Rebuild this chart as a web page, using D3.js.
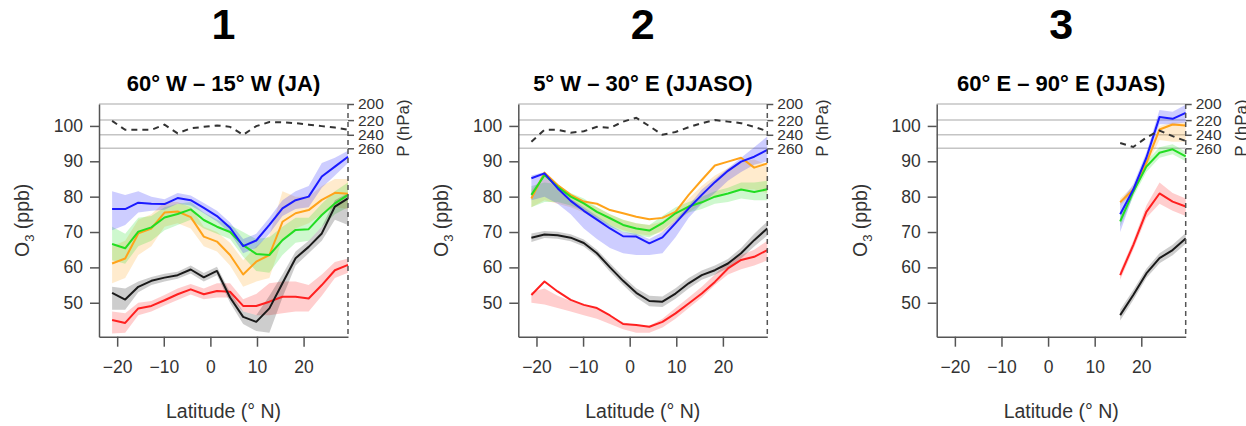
<!DOCTYPE html>
<html>
<head>
<meta charset="utf-8">
<script src="https://cdn.jsdelivr.net/npm/d3@7"></script>
<style>
  body { margin: 0; background: #fff; }
  text { font-family: "Liberation Sans", Arial, sans-serif; }
</style>
</head>
<body>
<svg id="chart" width="1246" height="426"></svg>
<script>
// latitudes of the model grid (2.8125 deg)
var lat = [-21.09, -18.28, -15.47, -12.66, -9.84, -7.03, -4.22, -1.41, 1.41, 4.22,
           7.03, 9.84, 12.66, 15.47, 18.28, 21.09, 23.91, 26.72, 29.53];
var lat3 = [15.47, 18.28, 21.09, 23.91, 26.72, 29.53];

var tickX = [-20, -10, 0, 10, 20];
var tickY = [50, 60, 70, 80, 90, 100];
var tickP = [200, 220, 240, 260];

var panelNums = ["1", "2", "3"];
var titles = ["60° W – 15° W (JA)", "5° W – 30° E (JJASO)", "60° E – 90° E (JJAS)"];

// panel 1 (JA)
var jaBlue   = [76.5, 76.5, 78.3, 78.0, 77.9, 79.6, 79.0, 76.8, 74.5, 71.2, 66.0, 67.6, 72.0, 76.7, 79.0, 80.0, 85.7, 88.5, 91.3];
var jaBlueLo = [70.5, 72.0, 75.5, 76.0, 76.3, 78.0, 77.5, 75.3, 73.0, 69.7, 64.0, 65.5, 69.5, 74.5, 76.5, 77.0, 82.5, 86.0, 89.5];
var jaBlueHi = [81.5, 80.5, 81.5, 80.0, 79.3, 81.0, 80.3, 78.2, 76.0, 72.7, 68.0, 69.5, 74.0, 79.0, 81.5, 83.0, 89.5, 91.0, 93.0];
var jaGreen   = [66.6, 65.4, 70.1, 71.3, 74.1, 75.1, 76.4, 73.4, 71.5, 70.0, 66.3, 63.8, 63.5, 67.7, 70.6, 70.8, 74.8, 78.1, 80.5];
var jaGreenLo = [62.0, 61.0, 66.0, 67.5, 70.5, 72.0, 73.5, 71.0, 69.5, 68.0, 63.0, 59.0, 58.5, 63.5, 67.0, 67.5, 71.5, 75.0, 77.0];
var jaGreenHi = [71.5, 69.5, 74.0, 74.5, 77.0, 78.0, 78.5, 75.5, 73.5, 72.0, 70.0, 68.0, 68.5, 71.5, 74.0, 74.0, 78.0, 81.5, 84.0];
var jaOrange   = [61.1, 62.5, 69.6, 71.0, 75.5, 75.8, 74.2, 68.7, 67.3, 63.5, 58.0, 61.6, 63.5, 72.9, 75.3, 76.2, 79.1, 81.1, 80.8];
var jaOrangeLo = [55.5, 57.0, 63.5, 66.0, 71.5, 72.5, 71.0, 66.0, 64.5, 60.5, 54.5, 56.0, 57.0, 68.0, 71.0, 72.5, 75.0, 77.0, 76.5];
var jaOrangeHi = [66.0, 67.5, 73.5, 75.0, 78.5, 78.5, 77.0, 71.5, 70.0, 67.0, 62.0, 66.0, 69.0, 81.5, 80.0, 80.0, 83.0, 85.0, 85.0];
var jaBlack   = [52.8, 50.9, 54.5, 56.2, 57.1, 57.8, 59.4, 57.2, 59.0, 51.5, 46.0, 44.6, 48.4, 55.5, 62.6, 65.8, 69.6, 77.2, 79.5];
var jaBlackLo = [48.0, 48.0, 53.0, 55.0, 56.0, 56.8, 58.3, 56.0, 57.8, 50.0, 44.0, 42.0, 41.5, 51.5, 60.5, 64.0, 67.5, 73.5, 72.0];
var jaBlackHi = [54.5, 54.0, 56.0, 57.3, 58.2, 58.8, 60.5, 58.4, 60.2, 53.0, 47.5, 46.5, 52.0, 58.0, 64.5, 67.5, 71.5, 79.0, 81.0];
var jaRed   = [45.1, 44.3, 48.4, 49.1, 50.7, 52.4, 53.8, 52.4, 53.3, 53.1, 49.1, 49.1, 50.3, 51.7, 51.7, 51.2, 55.0, 59.2, 60.7];
var jaRedLo = [41.3, 41.5, 46.5, 47.5, 49.2, 50.8, 52.3, 51.0, 51.5, 51.5, 47.5, 46.5, 46.5, 47.0, 47.5, 47.5, 52.0, 57.0, 58.5];
var jaRedHi = [47.5, 47.0, 50.0, 50.5, 52.2, 54.0, 55.3, 54.0, 55.5, 55.5, 51.0, 52.5, 55.5, 56.0, 56.0, 55.0, 58.0, 61.5, 62.5];
var jaPres = [221, 233, 233, 233, 226, 238, 231, 229, 227, 229, 240, 228, 222.5, 223, 224, 226, 228, 230, 233];

// panel 2 (JJASO)
var jjBlue   = [85.2, 86.6, 82.4, 78.8, 76.0, 73.5, 71.0, 68.8, 68.7, 66.8, 68.5, 72.5, 76.7, 80.5, 84.1, 87.3, 89.9, 91.3, 93.2];
var jjBlueLo = [79.0, 80.0, 78.0, 75.0, 71.0, 68.0, 65.5, 64.0, 63.5, 63.5, 64.0, 68.5, 74.0, 78.0, 81.0, 84.5, 87.0, 89.0, 90.0];
var jjBlueHi = [86.0, 87.0, 83.0, 79.5, 77.0, 74.5, 72.0, 70.0, 69.5, 68.0, 70.0, 73.5, 77.5, 82.0, 85.0, 88.0, 91.0, 94.0, 97.0];
var jjGreen   = [80.5, 86.1, 82.8, 80.0, 78.1, 75.7, 73.9, 72.0, 71.0, 70.4, 72.5, 75.3, 77.2, 78.4, 80.0, 80.9, 82.0, 81.3, 82.1];
var jjGreenLo = [77.0, 78.5, 78.5, 77.5, 76.0, 73.5, 71.5, 70.0, 69.0, 68.5, 70.5, 73.5, 75.5, 76.5, 78.0, 78.5, 79.5, 79.0, 79.0];
var jjGreenHi = [83.0, 84.0, 83.5, 81.0, 79.5, 77.0, 75.0, 73.5, 72.5, 72.0, 74.5, 77.0, 78.5, 80.0, 81.5, 82.5, 84.0, 84.0, 84.5];
var jjOrange   = [79.5, 86.8, 83.3, 80.5, 78.6, 78.0, 76.2, 75.3, 74.3, 73.6, 74.0, 75.7, 80.5, 84.7, 88.8, 89.9, 91.0, 88.2, 89.4];
var jjOrangeLo = [77.0, 79.0, 78.0, 77.0, 75.5, 74.0, 72.0, 70.5, 69.5, 69.0, 70.0, 72.5, 75.5, 78.0, 80.0, 81.5, 82.0, 82.0, 81.0];
var jjOrangeHi = [82.0, 86.0, 83.0, 80.0, 78.5, 77.0, 75.0, 73.5, 72.5, 72.0, 73.0, 76.0, 79.5, 83.0, 86.0, 88.0, 90.0, 90.5, 89.0];
var jjBlack   = [68.4, 69.3, 69.1, 68.4, 66.9, 64.0, 60.0, 56.2, 52.8, 50.5, 50.3, 52.6, 55.5, 57.8, 59.2, 61.1, 64.0, 67.7, 71.0];
var jjBlackLo = [67.2, 68.3, 68.1, 67.4, 65.9, 63.0, 58.8, 55.0, 51.5, 49.0, 48.8, 51.1, 54.0, 56.5, 57.9, 59.8, 62.5, 65.9, 69.0];
var jjBlackHi = [69.6, 70.3, 70.1, 69.4, 67.9, 65.0, 61.2, 57.4, 54.1, 52.0, 51.8, 54.1, 57.0, 59.1, 60.5, 62.4, 65.5, 69.5, 73.0];
var jjRed   = [52.2, 56.0, 53.2, 50.8, 49.4, 48.5, 46.4, 44.0, 43.7, 43.2, 44.6, 47.0, 49.8, 52.6, 55.9, 59.7, 62.1, 63.0, 64.9];
var jjRedLo = [50.0, 49.5, 48.5, 47.5, 46.5, 45.5, 44.0, 42.5, 41.5, 41.5, 43.0, 45.5, 48.5, 51.5, 55.0, 58.0, 59.5, 60.5, 62.0];
var jjRedHi = [53.0, 54.0, 52.0, 50.5, 49.5, 48.5, 46.5, 44.5, 43.5, 43.5, 45.5, 48.5, 51.5, 54.5, 58.0, 61.5, 63.5, 65.0, 67.5];
var jjPres = [250, 233, 233, 237, 235, 229, 230.5, 222, 217, 228, 240, 236, 229.5, 224, 220, 222, 224, 229, 235];

// panel 3 (JJAS)
var asBlue   = [75.0, 82.0, 91.0, 102.5, 102.0, 103.7];
var asBlueLo = [70.0, 80.5, 89.5, 100.5, 100.5, 101.0];
var asBlueHi = [78.5, 83.5, 92.5, 104.5, 104.0, 106.0];
var asGreen   = [73.0, 81.4, 88.5, 92.4, 93.4, 91.4];
var asGreenLo = [71.5, 80.0, 87.0, 91.0, 92.0, 90.0];
var asGreenHi = [74.5, 82.8, 90.0, 94.0, 94.8, 92.8];
var asOrange   = [78.4, 82.0, 89.5, 99.0, 100.4, 100.1];
var asOrangeLo = [77.5, 81.0, 88.5, 96.0, 95.5, 95.5];
var asOrangeHi = [79.5, 83.0, 90.5, 100.0, 101.0, 101.0];
var asBlack   = [46.5, 52.2, 58.3, 62.6, 64.9, 68.2];
var asBlackLo = [45.0, 50.8, 57.0, 61.2, 63.4, 66.7];
var asBlackHi = [48.0, 53.6, 59.6, 64.0, 66.4, 69.7];
var asRed   = [57.8, 66.3, 75.7, 80.9, 78.6, 77.2];
var asRedLo = [56.5, 65.0, 74.0, 78.0, 76.0, 74.5];
var asRedHi = [59.0, 67.5, 77.5, 84.0, 81.0, 79.5];
var asPres = [252, 258, 244, 234, 242, 249];

var colors = {blue: "#1a1aff", green: "#22dd22", orange: "#ffa31a", red: "#ff2020", black: "#1a1a1a"};

var panels = [
    {left: 99, lat: lat, pres: jaPres, series: [
        {c: colors.orange, mid: jaOrange, lo: jaOrangeLo, hi: jaOrangeHi},
        {c: colors.green, mid: jaGreen, lo: jaGreenLo, hi: jaGreenHi},
        {c: colors.blue, mid: jaBlue, lo: jaBlueLo, hi: jaBlueHi},
        {c: colors.red, mid: jaRed, lo: jaRedLo, hi: jaRedHi},
        {c: colors.black, mid: jaBlack, lo: jaBlackLo, hi: jaBlackHi}]},
    {left: 518.3, lat: lat, pres: jjPres, series: [
        {c: colors.orange, mid: jjOrange, lo: jjOrangeLo, hi: jjOrangeHi},
        {c: colors.green, mid: jjGreen, lo: jjGreenLo, hi: jjGreenHi},
        {c: colors.blue, mid: jjBlue, lo: jjBlueLo, hi: jjBlueHi},
        {c: colors.red, mid: jjRed, lo: jjRedLo, hi: jjRedHi},
        {c: colors.black, mid: jjBlack, lo: jjBlackLo, hi: jjBlackHi}]},
    {left: 936.7, lat: lat3, pres: asPres, series: [
        {c: colors.orange, mid: asOrange, lo: asOrangeLo, hi: asOrangeHi},
        {c: colors.green, mid: asGreen, lo: asGreenLo, hi: asGreenHi},
        {c: colors.blue, mid: asBlue, lo: asBlueLo, hi: asBlueHi},
        {c: colors.red, mid: asRed, lo: asRedLo, hi: asRedHi},
        {c: colors.black, mid: asBlack, lo: asBlackLo, hi: asBlackHi}]}
];

var svg = d3.select("#chart");
var plotW = 249, plotH = 232.7, plotTop = 104;
var axisCol = "#555", textCol = "#333";

panels.forEach(function (p, k) {
    var w = plotW, h = plotH;
    var g = svg.append("g").attr("transform", "translate(" + p.left + "," + plotTop + ")");

    var x = d3.scaleLinear().domain([-23.9, 29.53]).range([0, w]);
    var y = d3.scaleLinear().domain([40.4, 106.2]).range([h, 0]);
    var yp = d3.scaleLog().domain([200, 260]).range([0, 44.3]);

    // big panel number and title
    svg.append("text")
        .attr("x", p.left + w / 2).attr("y", 39)
        .attr("text-anchor", "middle")
        .style("font-size", "43px").style("font-weight", "bold")
        .text(panelNums[k]);
    svg.append("text")
        .attr("x", p.left + w / 2).attr("y", 91)
        .attr("text-anchor", "middle")
        .style("font-size", "22px").style("font-weight", "bold")
        .text(titles[k]);

    // pressure level lines
    g.selectAll(".plev").data(tickP).enter().append("line")
        .attr("x1", 0).attr("x2", w)
        .attr("y1", function (d) { return yp(d); })
        .attr("y2", function (d) { return yp(d); })
        .attr("stroke", "#c4c4c4").attr("stroke-width", 1.5);

    // shaded ranges
    p.series.forEach(function (s) {
        var area = d3.area()
            .x(function (d, i) { return x(p.lat[i]); })
            .y0(function (d, i) { return y(s.lo[i]); })
            .y1(function (d, i) { return y(s.hi[i]); });
        g.append("path").datum(s.mid)
            .attr("d", area)
            .attr("fill", s.c).attr("fill-opacity", 0.22);
    });

    // lines
    p.series.forEach(function (s) {
        var line = d3.line()
            .x(function (d, i) { return x(p.lat[i]); })
            .y(function (d) { return y(d); });
        g.append("path").datum(s.mid)
            .attr("d", line)
            .attr("fill", "none").attr("stroke", s.c)
            .attr("stroke-width", 2).attr("stroke-linejoin", "round");
    });

    // tropopause pressure (dashed)
    var pline = d3.line()
        .x(function (d, i) { return x(p.lat[i]); })
        .y(function (d) { return yp(d); });
    g.append("path").datum(p.pres)
        .attr("d", pline)
        .attr("fill", "none").attr("stroke", "#333")
        .attr("stroke-width", 2).attr("stroke-dasharray", "6,5");

    // axes
    var xAxis = d3.axisBottom(x).tickValues(tickX).tickSize(10).tickSizeOuter(0).tickPadding(14);
    var yAxis = d3.axisLeft(y).tickValues(tickY).tickSize(9).tickSizeOuter(0).tickPadding(7);
    var pAxis = d3.axisRight(yp).tickValues(tickP).tickSize(6).tickPadding(4);

    var gx = g.append("g").attr("transform", "translate(0," + h + ")").call(xAxis);
    var gy = g.append("g").call(yAxis);
    var gp = g.append("g").attr("transform", "translate(" + w + ",0)").call(pAxis);
    gp.select(".domain").remove();

    [gx, gy, gp].forEach(function (a) {
        a.selectAll(".domain").attr("stroke", axisCol).attr("stroke-width", 1.5);
        a.selectAll(".tick line").attr("stroke", axisCol).attr("stroke-width", 1.5);
        a.selectAll(".tick text").attr("fill", textCol)
            .style("font-family", "'Liberation Sans', Arial, sans-serif");
    });
    gx.selectAll(".tick text").style("font-size", "17.5px");
    gy.selectAll(".tick text").style("font-size", "17.5px");
    gp.selectAll(".tick text").style("font-size", "15.5px");

    // dashed right border
    g.append("line")
        .attr("x1", w).attr("x2", w).attr("y1", 0).attr("y2", h)
        .attr("stroke", axisCol).attr("stroke-width", 1.5)
        .attr("stroke-dasharray", "5,4");

    // axis titles
    g.append("text")
        .attr("x", w / 2).attr("y", h + 81)
        .attr("text-anchor", "middle").attr("fill", textCol)
        .style("font-size", "19.5px")
        .text("Latitude (° N)");

    var o3 = g.append("text")
        .attr("transform", "translate(-77," + (h / 2) + ") rotate(-90)")
        .attr("text-anchor", "middle").attr("dy", "0.35em")
        .attr("fill", textCol).style("font-size", "19.5px");
    o3.append("tspan").text("O");
    o3.append("tspan").attr("dy", 5).style("font-size", "13px").text("3");
    o3.append("tspan").attr("dy", -5).text(" (ppb)");

    g.append("text")
        .attr("transform", "translate(" + (w + 55) + ",24) rotate(-90)")
        .attr("text-anchor", "middle").attr("dy", "0.35em")
        .attr("fill", textCol).style("font-size", "17px")
        .text("P (hPa)");
});
</script>
</body>
</html>
